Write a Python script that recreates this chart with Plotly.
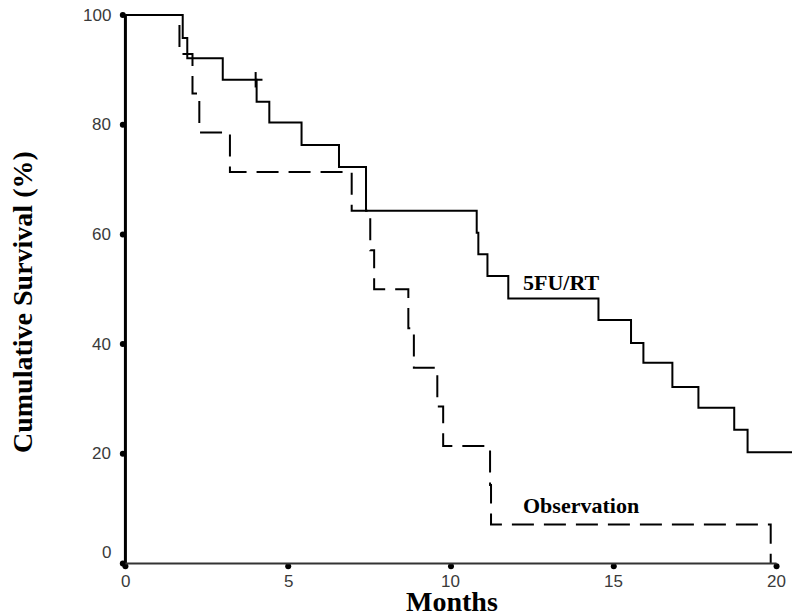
import plotly.graph_objects as go

# ========== DATA ==========
# 5FU/RT arm (solid): event times (months) and survival (%) after each drop
fu_months = [0, 1.76, 1.90, 2.99, 4.03, 4.42, 5.41, 6.56, 7.39, 10.79, 10.84, 11.12,
             11.76, 14.53, 15.53, 15.91, 16.80, 17.60, 18.70, 19.11, 20.9]
fu_surv = [100, 95.8, 92.1, 88.2, 84.2, 80.4, 76.3, 72.3, 64.3, 60.3, 56.4, 52.4,
           48.3, 44.4, 40.2, 36.6, 32.2, 28.4, 24.4, 20.3, 20.3]
fu_censor_months = [4.0]
fu_censor_surv = [88.2]
fu_censor_tail = [4.0, 4.21]

# Observation arm (dashed)
obs_months = [0, 1.66, 2.06, 2.27, 3.21, 6.95, 7.52, 7.64, 8.69, 8.86, 9.58, 9.76,
              11.20, 11.23, 19.82]
obs_surv = [100, 92.9, 85.7, 78.6, 71.4, 64.3, 57.1, 50.0, 42.9, 35.7, 28.6, 21.4,
            14.3, 7.1, 0]

x_ticks = [0, 5, 10, 15, 20]
y_ticks = [0, 20, 40, 60, 80, 100]

SERIF = 'Liberation Serif, Times New Roman, serif'
SANS = 'Arial, Liberation Sans, sans-serif'

# page has an 8px body margin, so the figure is drawn 8px in from the corner
OFF = 8
W, H = 800 - OFF, 615 - OFF
L, T, B = 107, 0, 40


def px_x(p):
    return (p - OFF - L) / (W - L)


def px_y(p):
    return 1 - (p - OFF - T) / (H - T - B)


fig = go.Figure()

# Observation (dashed)
fig.add_trace(go.Scatter(
    x=obs_months, y=obs_surv, mode='lines', line_shape='hv',
    line=dict(color='black', width=2, dash='22px,10px'),
    showlegend=False, hoverinfo='skip'
))

# 5FU/RT (solid)
fig.add_trace(go.Scatter(
    x=fu_months, y=fu_surv, mode='lines', line_shape='hv',
    line=dict(color='black', width=2),
    showlegend=False, hoverinfo='skip'
))

# Censored observation
fig.add_trace(go.Scatter(
    x=fu_censor_tail, y=[fu_censor_surv[0]] * 2, mode='lines',
    line=dict(color='black', width=2), showlegend=False, hoverinfo='skip'
))
fig.add_trace(go.Scatter(
    x=fu_censor_months, y=fu_censor_surv, mode='markers',
    marker=dict(symbol='line-ns', size=11, line=dict(color='black', width=2)),
    showlegend=False, hoverinfo='skip'
))

# Axis lines
fig.add_shape(type='line', x0=0, x1=0, y0=0, y1=100, xref='x', yref='y',
              line=dict(color='black', width=3))
fig.add_shape(type='line', x0=0, x1=20, y0=0, y1=0, xref='x', yref='y',
              line=dict(color='#333333', width=2))

# Tick dots
fig.add_trace(go.Scatter(
    x=[-0.08] * len(y_ticks), y=y_ticks, mode='markers', cliponaxis=False,
    marker=dict(color='black', size=6), showlegend=False, hoverinfo='skip'
))
fig.add_trace(go.Scatter(
    x=x_ticks, y=[-0.5] * len(x_ticks), mode='markers', cliponaxis=False,
    marker=dict(color='black', size=6), showlegend=False, hoverinfo='skip'
))

# Tick labels
for v in y_ticks:
    fig.add_annotation(x=px_x(113), y=v + (2 if v == 0 else 0), xref='paper', yref='y',
                       text=str(v), showarrow=False, xanchor='right', yanchor='middle',
                       font=dict(family=SANS, size=17, color='#3a3a3a'))
for v in x_ticks:
    fig.add_annotation(x=v, y=px_y(570), xref='x', yref='paper', text=str(v),
                       showarrow=False, xanchor='center', yanchor='top',
                       font=dict(family=SANS, size=17, color='#3a3a3a'))

# Series labels
fig.add_annotation(x=13.4, y=51.2, xref='x', yref='y', text='<b>5FU/RT</b>',
                   showarrow=False, xanchor='center', yanchor='middle',
                   font=dict(family=SERIF, size=22, color='black'))
fig.add_annotation(x=14.0, y=10.6, xref='x', yref='y', text='<b>Observation</b>',
                   showarrow=False, xanchor='center', yanchor='middle',
                   font=dict(family=SERIF, size=22, color='black'))

# Axis titles
fig.add_annotation(x=px_x(22), y=px_y(302), xref='paper', yref='paper',
                   text='<b>Cumulative Survival (%)</b>', showarrow=False, textangle=-90,
                   xanchor='center', yanchor='middle',
                   font=dict(family=SERIF, size=28, color='black'))
fig.add_annotation(x=px_x(452), y=px_y(601), xref='paper', yref='paper', text='<b>Months</b>',
                   showarrow=False, xanchor='center', yanchor='middle',
                   font=dict(family=SERIF, size=28, color='black'))

fig.update_layout(
    width=W, height=H,
    margin=dict(l=L, r=0, t=T, b=B),
    paper_bgcolor='white', plot_bgcolor='white',
    xaxis=dict(range=[-0.32, 20.72], visible=False),
    yaxis=dict(range=[-2.1, 101.28], visible=False),
)

fig.write_html("out.html")
